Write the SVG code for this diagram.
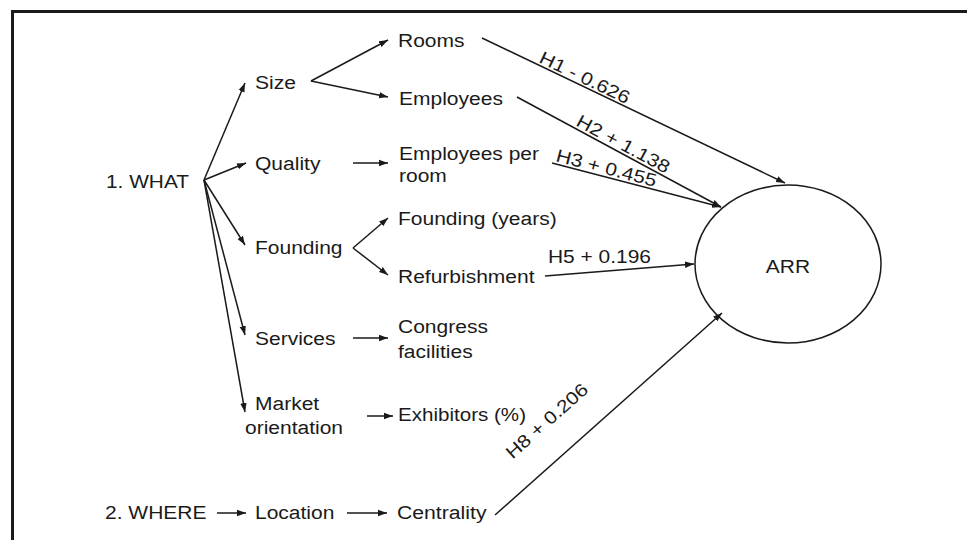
<svg xmlns="http://www.w3.org/2000/svg" width="967" height="540" viewBox="0 0 967 540">
<style>
text{font-family:"Liberation Sans",Arial,Helvetica,sans-serif;font-size:18px;fill:#1a1a1a}
.ln{stroke:#1a1a1a;stroke-width:1.5;fill:none}
.ar{stroke:#1a1a1a;stroke-width:1.5;fill:none;marker-end:url(#ah)}
.fr{stroke:#1a1a1a;stroke-width:3;fill:none}
</style>
<defs>
<marker id="ah" markerUnits="userSpaceOnUse" markerWidth="10" markerHeight="8" refX="9" refY="4" orient="auto">
<path d="M0,0.8 L9,4 L0,7.2 Z" fill="#1a1a1a"/>
</marker>
</defs>
<rect width="967" height="540" fill="#fff"/>
<g id="frame">
<path class="fr" d="M12.5,540 L12.5,11.5 L967,11.5"/>
</g>
<g id="connectors">
<line class="ar" x1="204" y1="180" x2="245" y2="83"/>
<line class="ar" x1="204" y1="180" x2="246" y2="163"/>
<line class="ar" x1="204" y1="180" x2="245" y2="245"/>
<line class="ar" x1="204" y1="180" x2="245" y2="335"/>
<line class="ar" x1="204" y1="180" x2="245" y2="412"/>
<line class="ar" x1="311" y1="81" x2="388" y2="40"/>
<line class="ar" x1="311" y1="81" x2="388" y2="97"/>
<line class="ar" x1="353" y1="163" x2="388" y2="163"/>
<line class="ar" x1="353" y1="248" x2="388" y2="218"/>
<line class="ar" x1="353" y1="248" x2="388" y2="275"/>
<line class="ar" x1="353" y1="338" x2="388" y2="338"/>
<line class="ar" x1="367" y1="416" x2="393" y2="416"/>
<line class="ar" x1="217" y1="513" x2="246" y2="513"/>
<line class="ar" x1="347" y1="513" x2="387" y2="513"/>
<line class="ar" x1="482" y1="38" x2="785" y2="183"/>
<line class="ar" x1="517" y1="97" x2="721" y2="207"/>
<line class="ar" x1="552" y1="163" x2="721" y2="207"/>
<line class="ar" x1="545" y1="276" x2="694" y2="264"/>
<line class="ar" x1="495" y1="515" x2="722" y2="313"/>
<text x="538" y="62" transform="rotate(25.6 538 62)" textLength="98" lengthAdjust="spacingAndGlyphs">H1 - 0.626</text>
<text x="575" y="125" transform="rotate(28.3 575 125)" textLength="103" lengthAdjust="spacingAndGlyphs">H2 + 1.138</text>
<text x="555" y="161" transform="rotate(14.6 555 161)" textLength="103" lengthAdjust="spacingAndGlyphs">H3 + 0.455</text>
<text x="548" y="263" textLength="103" lengthAdjust="spacingAndGlyphs">H5 + 0.196</text>
<text x="547" y="427" text-anchor="middle" transform="rotate(-41.7 547 421)" textLength="103" lengthAdjust="spacingAndGlyphs">H8 + 0.206</text>
</g>
<g id="what"><text x="106" y="188" textLength="83" lengthAdjust="spacingAndGlyphs">1. WHAT</text></g>
<g id="size"><text x="255" y="89" textLength="41" lengthAdjust="spacingAndGlyphs">Size</text></g>
<g id="quality"><text x="255" y="170" textLength="65.4" lengthAdjust="spacingAndGlyphs">Quality</text></g>
<g id="founding"><text x="255" y="254" textLength="87.5" lengthAdjust="spacingAndGlyphs">Founding</text></g>
<g id="services"><text x="255" y="345" textLength="80.5" lengthAdjust="spacingAndGlyphs">Services</text></g>
<g id="market"><text x="255" y="410" textLength="64.2" lengthAdjust="spacingAndGlyphs">Market</text><text x="245" y="434" textLength="98" lengthAdjust="spacingAndGlyphs">orientation</text></g>
<g id="rooms"><text x="398" y="47" textLength="66.5" lengthAdjust="spacingAndGlyphs">Rooms</text></g>
<g id="employees"><text x="399" y="105" textLength="103.9" lengthAdjust="spacingAndGlyphs">Employees</text></g>
<g id="employees-per-room"><text x="399" y="160" textLength="140" lengthAdjust="spacingAndGlyphs">Employees per</text><text x="399" y="182" textLength="47.8" lengthAdjust="spacingAndGlyphs">room</text></g>
<g id="founding-years"><text x="398" y="225" textLength="158.7" lengthAdjust="spacingAndGlyphs">Founding (years)</text></g>
<g id="refurbishment"><text x="398" y="283" textLength="136.5" lengthAdjust="spacingAndGlyphs">Refurbishment</text></g>
<g id="congress"><text x="398" y="333" textLength="89.9" lengthAdjust="spacingAndGlyphs">Congress</text><text x="398" y="358" textLength="74.7" lengthAdjust="spacingAndGlyphs">facilities</text></g>
<g id="exhibitors"><text x="398" y="421" textLength="128" lengthAdjust="spacingAndGlyphs">Exhibitors (%)</text></g>
<g id="where"><text x="105" y="519" textLength="101.5" lengthAdjust="spacingAndGlyphs">2. WHERE</text></g>
<g id="location"><text x="255" y="519" textLength="79.4" lengthAdjust="spacingAndGlyphs">Location</text></g>
<g id="centrality"><text x="397" y="519" textLength="89.5" lengthAdjust="spacingAndGlyphs">Centrality</text></g>
<g id="arr">
<ellipse cx="788" cy="264" rx="93" ry="79" class="ln"/>
<text x="788" y="273" text-anchor="middle" textLength="44.3" lengthAdjust="spacingAndGlyphs">ARR</text>
</g>
</svg>
